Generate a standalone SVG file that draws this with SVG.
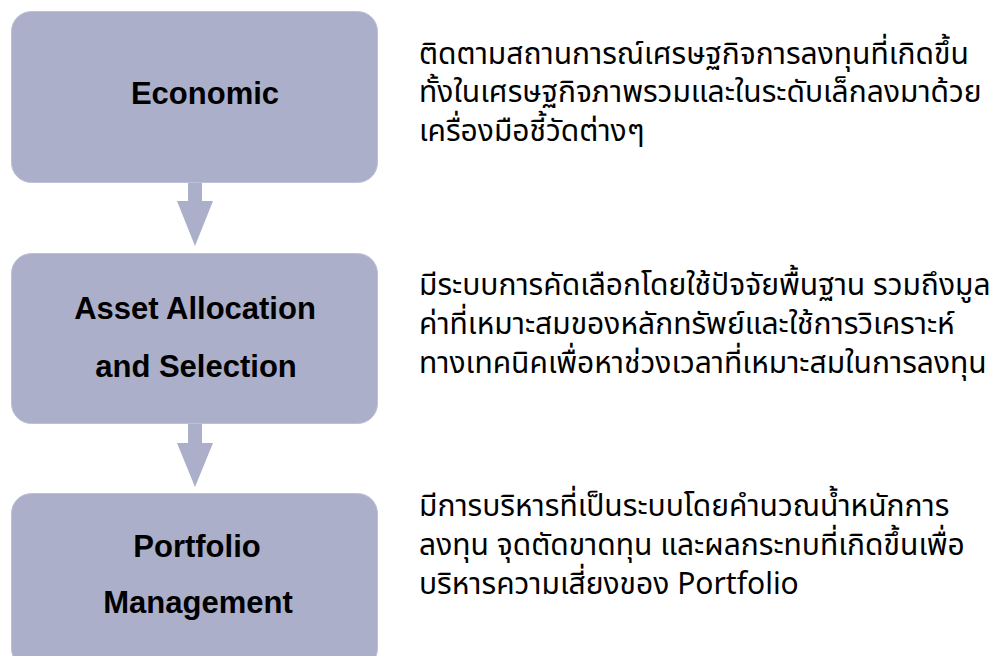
<svg xmlns="http://www.w3.org/2000/svg" width="995" height="656" viewBox="0 0 995 656">
<style>
.box{fill:#ABAFCA;stroke:#BEC1D5;stroke-width:1}
.arrow{fill:#ABAFCA}
.lbl{font-family:"Liberation Sans",Arial,sans-serif;font-weight:bold;font-size:31px;fill:#000;text-anchor:middle}
.desc{font-family:"Noto Sans Thai","Noto Sans Thai UI","Noto Sans","Liberation Sans",sans-serif;font-size:30px;fill:#000}
</style>
<rect width="995" height="656" fill="#fff"/>
<g id="connectors">
<path class="arrow" d="M188 182H202V201H213L195 246L177 201H188Z"/>
<path class="arrow" d="M188 423H202V443H213L195 487L177 443H188Z"/>
</g>
<g id="node-economic">
<rect class="box" x="11.5" y="11.5" width="366" height="171" rx="20"/>
<text class="lbl" x="205" y="104">Economic</text>
</g>
<g id="node-asset">
<rect class="box" x="11.5" y="253.5" width="366" height="170" rx="20"/>
<text class="lbl" x="195" y="319">Asset Allocation</text>
<text class="lbl" x="196" y="377">and Selection</text>
</g>
<g id="node-portfolio">
<rect class="box" x="11.5" y="493.5" width="366" height="175" rx="20"/>
<text class="lbl" x="197" y="557">Portfolio</text>
<text class="lbl" x="198" y="613">Management</text>
</g>
<g id="desc-economic" class="desc">
<text x="419" y="64">ติดตามสถานการณ์เศรษฐกิจการลงทุนที่เกิดขึ้น</text>
<text x="419" y="102">ทั้งในเศรษฐกิจภาพรวมและในระดับเล็กลงมาด้วย</text>
<text x="419" y="141">เครื่องมือชี้วัดต่างๆ</text>
</g>
<g id="desc-asset" class="desc">
<text x="419" y="295">มีระบบการคัดเลือกโดยใช้ปัจจัยพื้นฐาน รวมถึงมูล</text>
<text x="419" y="334">ค่าที่เหมาะสมของหลักทรัพย์และใช้การวิเคราะห์</text>
<text x="419" y="373">ทางเทคนิคเพื่อหาช่วงเวลาที่เหมาะสมในการลงทุน</text>
</g>
<g id="desc-portfolio" class="desc">
<text x="419" y="516">มีการบริหารที่เป็นระบบโดยคำนวณน้ำหนักการ</text>
<text x="419" y="555">ลงทุน จุดตัดขาดทุน และผลกระทบที่เกิดขึ้นเพื่อ</text>
<text x="419" y="594">บริหารความเสี่ยงของ Portfolio</text>
</g>
</svg>
